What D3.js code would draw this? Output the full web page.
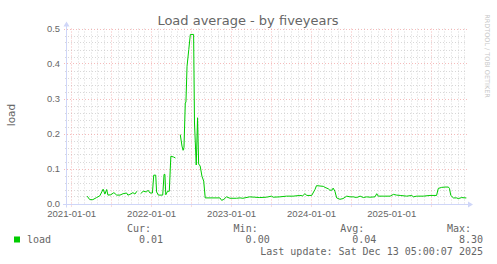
<!DOCTYPE html>
<html lang="en">
<head>
  <meta charset="UTF-8">
  <title>Load average - by fiveyears</title>
  <style>
    body { margin: 0; background: #fff; }
    svg { display: block; }
    .tick text { fill: #666; }
  </style>
</head>
<body>
  <div class="container"></div>
  <script src="https://d3js.org/d3.v7.min.js"></script>
  <script>
    // values, null = gap in the rrd data
    const dates = [
      '2021-03-15', '2021-03-27', '2021-04-10', '2021-04-27', '2021-05-12', '2021-05-27', '2021-06-04', '2021-06-12',
      '2021-06-18', '2021-07-01', '2021-07-15', '2021-07-28', '2021-08-12', '2021-08-26', '2021-09-11', '2021-09-17',
      '2021-09-26', '2021-10-10', '2021-10-19', '2021-10-28', '2021-11-05', '2021-11-14', '2021-11-26', '2021-12-11',
      '2021-12-18', '2021-12-27', '2022-01-07', '2022-01-13', '2022-01-22', '2022-01-26', '2022-02-03', '2022-02-23',
      '2022-03-01', '2022-03-05', '2022-03-09', '2022-03-17', '2022-03-25', '2022-04-01', '2022-04-13', '2022-04-22',
      '2022-05-05', '2022-05-14', '2022-05-22', '2022-05-27', '2022-05-31', '2022-06-06', '2022-06-09', '2022-06-14',
      '2022-06-22', '2022-06-29', '2022-07-14', '2022-07-18', '2022-07-26', '2022-08-01', '2022-08-06', '2022-08-13',
      '2022-08-21', '2022-08-29', '2022-09-05', '2022-11-11', '2022-11-19', '2022-11-29', '2022-12-11', '2022-12-27',
      '2023-01-26', '2023-02-11', '2023-02-24', '2023-03-27', '2023-04-19', '2023-05-12', '2023-06-12', '2023-07-05',
      '2023-07-12', '2023-08-12', '2023-09-11', '2023-10-12', '2023-11-11', '2023-11-24', '2023-12-04', '2023-12-13',
      '2024-01-04', '2024-01-19', '2024-01-26', '2024-02-11', '2024-02-26', '2024-03-05', '2024-03-20', '2024-03-27',
      '2024-04-05', '2024-04-11', '2024-04-19', '2024-04-27', '2024-05-12', '2024-05-26', '2024-06-12', '2024-06-27',
      '2024-07-12', '2024-07-27', '2024-08-12', '2024-08-27', '2024-09-11', '2024-09-26', '2024-10-19', '2024-10-27',
      '2024-11-03', '2024-11-26', '2024-12-27', '2025-01-11', '2025-01-26', '2025-02-11', '2025-03-13', '2025-04-05',
      '2025-04-12', '2025-04-27', '2025-05-27', '2025-06-27', '2025-07-27', '2025-08-04', '2025-08-19', '2025-09-04',
      '2025-09-19', '2025-09-24', '2025-09-30', '2025-10-12', '2025-10-27', '2025-11-03', '2025-11-19', '2025-12-04',
      '2025-12-10'
    ]
    const loads = [
      0.021, 0.011, 0.011, 0.017, 0.022, 0.041, 0.027, 0.040,
      0.024, 0.025, 0.031, 0.024, 0.024, 0.028, 0.030, 0.024,
      0.026, 0.031, 0.027, 0.035, null, 0.028, 0.035, 0.033,
      0.038, 0.030, 0.030, 0.081, 0.081, 0.033, 0.024, 0.024,
      0.083, 0.083, 0.025, 0.035, 0.035, 0.135, 0.133, 0.130,
      null, 0.197, 0.164, 0.152, 0.160, 0.287, 0.290, 0.392,
      0.440, 0.483, 0.483, 0.230, 0.110, 0.245, 0.113, 0.107,
      0.078, 0.064, 0.016, 0.016, 0.009, 0.012, 0.019, 0.015,
      0.015, 0.016, 0.015, 0.019, 0.018, 0.017, 0.018, 0.021,
      0.018, 0.019, 0.021, 0.021, 0.023, 0.022, 0.028, 0.023,
      0.023, 0.040, 0.051, 0.050, 0.049, 0.046, 0.042, 0.038,
      0.038, 0.044, 0.035, 0.016, 0.012, 0.014, 0.021, 0.019,
      0.019, 0.017, 0.021, 0.017, 0.019, 0.018, 0.019, 0.028,
      0.021, 0.021, 0.021, 0.026, 0.024, 0.023, 0.021, 0.023,
      0.019, 0.021, 0.021, 0.023, 0.023, 0.043, 0.046, 0.047,
      0.047, 0.043, 0.023, 0.016, 0.016, 0.014, 0.017, 0.016,
      0.016
    ]
    const yTicks = [0, 0.1, 0.2, 0.3, 0.4, 0.5]
    const legendHeads = ['Cur:', 'Min:', 'Avg:', 'Max:']
    const legendVals = ['0.01', '0.00', '0.04', '8.30']
    const seriesName = 'load'
    const lastUpdate = 'Last update: Sat Dec 13 05:00:07 2025'

    let W = 497, H = 264
    let L = 67, T = 28.5, pw = 400, ph = 175

    let parse = d3.timeParse('%Y-%m-%d')
    let data = dates.map((d, i) => ({ date: parse(d), v: loads[i] }))

    let svg = d3.select('.container').append('svg')
      .attr('width', W)
      .attr('height', H)
      .style('font-family', 'DejaVu Sans, sans-serif')

    let xScale = d3.scaleTime()
      .domain([new Date(2020, 11, 13), new Date(2025, 11, 13)])
      .range([L, L + pw])
    let yScale = d3.scaleLinear()
      .domain([0, 0.5])
      .range([T + ph, T])

    let minorCol = 'rgba(200,200,200,0.7)'
    let majorCol = 'rgba(240,150,150,0.65)'

    // minor grid
    let months = d3.timeMonth.range(new Date(2021, 0, 1), xScale.domain()[1])
    let minorY = d3.range(0, 0.501, 0.02)
    let grid = svg.append('g')
    grid.selectAll('.vmin')
      .data(months.filter(m => m.getMonth() % 6 != 0))
      .enter().append('line')
      .attr('x1', d => Math.round(xScale(d)) + 0.5)
      .attr('x2', d => Math.round(xScale(d)) + 0.5)
      .attr('y1', T)
      .attr('y2', T + ph + 2)
      .attr('stroke', minorCol)
      .attr('stroke-dasharray', '1,2')
    grid.selectAll('.hmin')
      .data(minorY.filter((d, i) => i % 5 != 0))
      .enter().append('line')
      .attr('x1', L - 2)
      .attr('x2', L + pw)
      .attr('y1', d => Math.round(yScale(d)) + 0.5)
      .attr('y2', d => Math.round(yScale(d)) + 0.5)
      .attr('stroke', minorCol)
      .attr('stroke-dasharray', '1,2')

    // major grid
    grid.selectAll('.vmaj')
      .data(months.filter(m => m.getMonth() % 6 == 0))
      .enter().append('line')
      .attr('x1', d => Math.round(xScale(d)) + 0.5)
      .attr('x2', d => Math.round(xScale(d)) + 0.5)
      .attr('y1', T)
      .attr('y2', T + ph + 3)
      .attr('stroke', majorCol)
      .attr('stroke-dasharray', '1,2')
    grid.selectAll('.hmaj')
      .data(yTicks)
      .enter().append('line')
      .attr('x1', L - 3)
      .attr('x2', L + pw)
      .attr('y1', d => Math.round(yScale(d)) + 0.5)
      .attr('y2', d => Math.round(yScale(d)) + 0.5)
      .attr('stroke', majorCol)
      .attr('stroke-dasharray', '1,2')

    // tick labels
    let yAxis = d3.axisLeft(yScale)
      .tickValues(yTicks)
      .tickSize(0)
      .tickPadding(7)
      .tickFormat(d3.format('.1f'))
    svg.append('g')
      .attr('transform', `translate(${L}, 0)`)
      .call(yAxis)
      .call(g => g.select('.domain').remove())
      .selectAll('text').style('font-size', '9.4px')

    let xAxis = d3.axisBottom(xScale)
      .tickValues(d3.timeYear.range(new Date(2021, 0, 1), xScale.domain()[1]))
      .tickSize(0)
      .tickPadding(7)
      .tickFormat(d3.timeFormat('%Y-%m-%d'))
    svg.append('g')
      .attr('transform', `translate(0, ${T + ph})`)
      .call(xAxis)
      .call(g => g.select('.domain').remove())
      .selectAll('text').style('font-size', '9.6px')

    // axes lines and arrows
    let axisCol = '#CFD6F8'
    let y0 = Math.round(yScale(0)) + 0.5
    svg.append('line')
      .attr('x1', L - 4).attr('x2', L + pw + 2)
      .attr('y1', y0).attr('y2', y0)
      .attr('stroke', axisCol)
    svg.append('line')
      .attr('x1', L - 0.5).attr('x2', L - 0.5)
      .attr('y1', y0 + 3).attr('y2', T - 4)
      .attr('stroke', axisCol)
    svg.append('path')
      .attr('d', `M${L + pw + 1},${y0 - 3}L${L + pw + 6},${y0}L${L + pw + 1},${y0 + 3}Z`)
      .attr('fill', axisCol)
    svg.append('path')
      .attr('d', `M${L - 3.5},${T - 2}L${L - 0.5},${T - 7}L${L + 2.5},${T - 2}Z`)
      .attr('fill', axisCol)

    // the load line
    let line = d3.line()
      .defined(d => d.v != null)
      .x(d => xScale(d.date))
      .y(d => yScale(d.v))
    svg.append('path')
      .datum(data)
      .attr('d', line)
      .attr('fill', 'none')
      .attr('stroke', '#00CC00')
      .attr('stroke-width', 1)

    // title and labels
    svg.append('text')
      .attr('x', 248).attr('y', 24.5)
      .attr('text-anchor', 'middle')
      .style('font-size', '13px')
      .attr('fill', '#666')
      .text('Load average - by fiveyears')

    svg.append('text')
      .attr('transform', 'translate(15, 115) rotate(-90)')
      .attr('text-anchor', 'middle')
      .style('font-size', '10.5px')
      .attr('fill', '#666')
      .text(seriesName)

    svg.append('text')
      .attr('transform', 'translate(485, 56) rotate(90)')
      .attr('text-anchor', 'middle')
      .style('font-size', '6.5px')
      .attr('fill', '#c8c8c8')
      .text('RRDTOOL / TOBI OETIKER')

    // legend
    let legend = svg.append('g')
      .style('font-family', 'DejaVu Sans Mono, monospace')
      .style('font-size', '10px')
      .attr('fill', '#666')
    legend.append('rect')
      .attr('x', 14).attr('y', 236.5)
      .attr('width', 6).attr('height', 6)
      .attr('fill', '#00CC00')
    legend.append('text')
      .attr('x', 27).attr('y', 243)
      .text(seriesName)
    legend.selectAll('.head')
      .data(legendHeads)
      .enter().append('text')
      .attr('x', (d, i) => 151 + i * 106.7)
      .attr('y', 231.5)
      .attr('text-anchor', 'end')
      .text(d => d)
    legend.selectAll('.val')
      .data(legendVals)
      .enter().append('text')
      .attr('x', (d, i) => 163 + i * 106.7)
      .attr('y', 243)
      .attr('text-anchor', 'end')
      .text(d => d)
    legend.append('text')
      .attr('x', 483).attr('y', 254.5)
      .attr('text-anchor', 'end')
      .text(lastUpdate)
  </script>
</body>
</html>
